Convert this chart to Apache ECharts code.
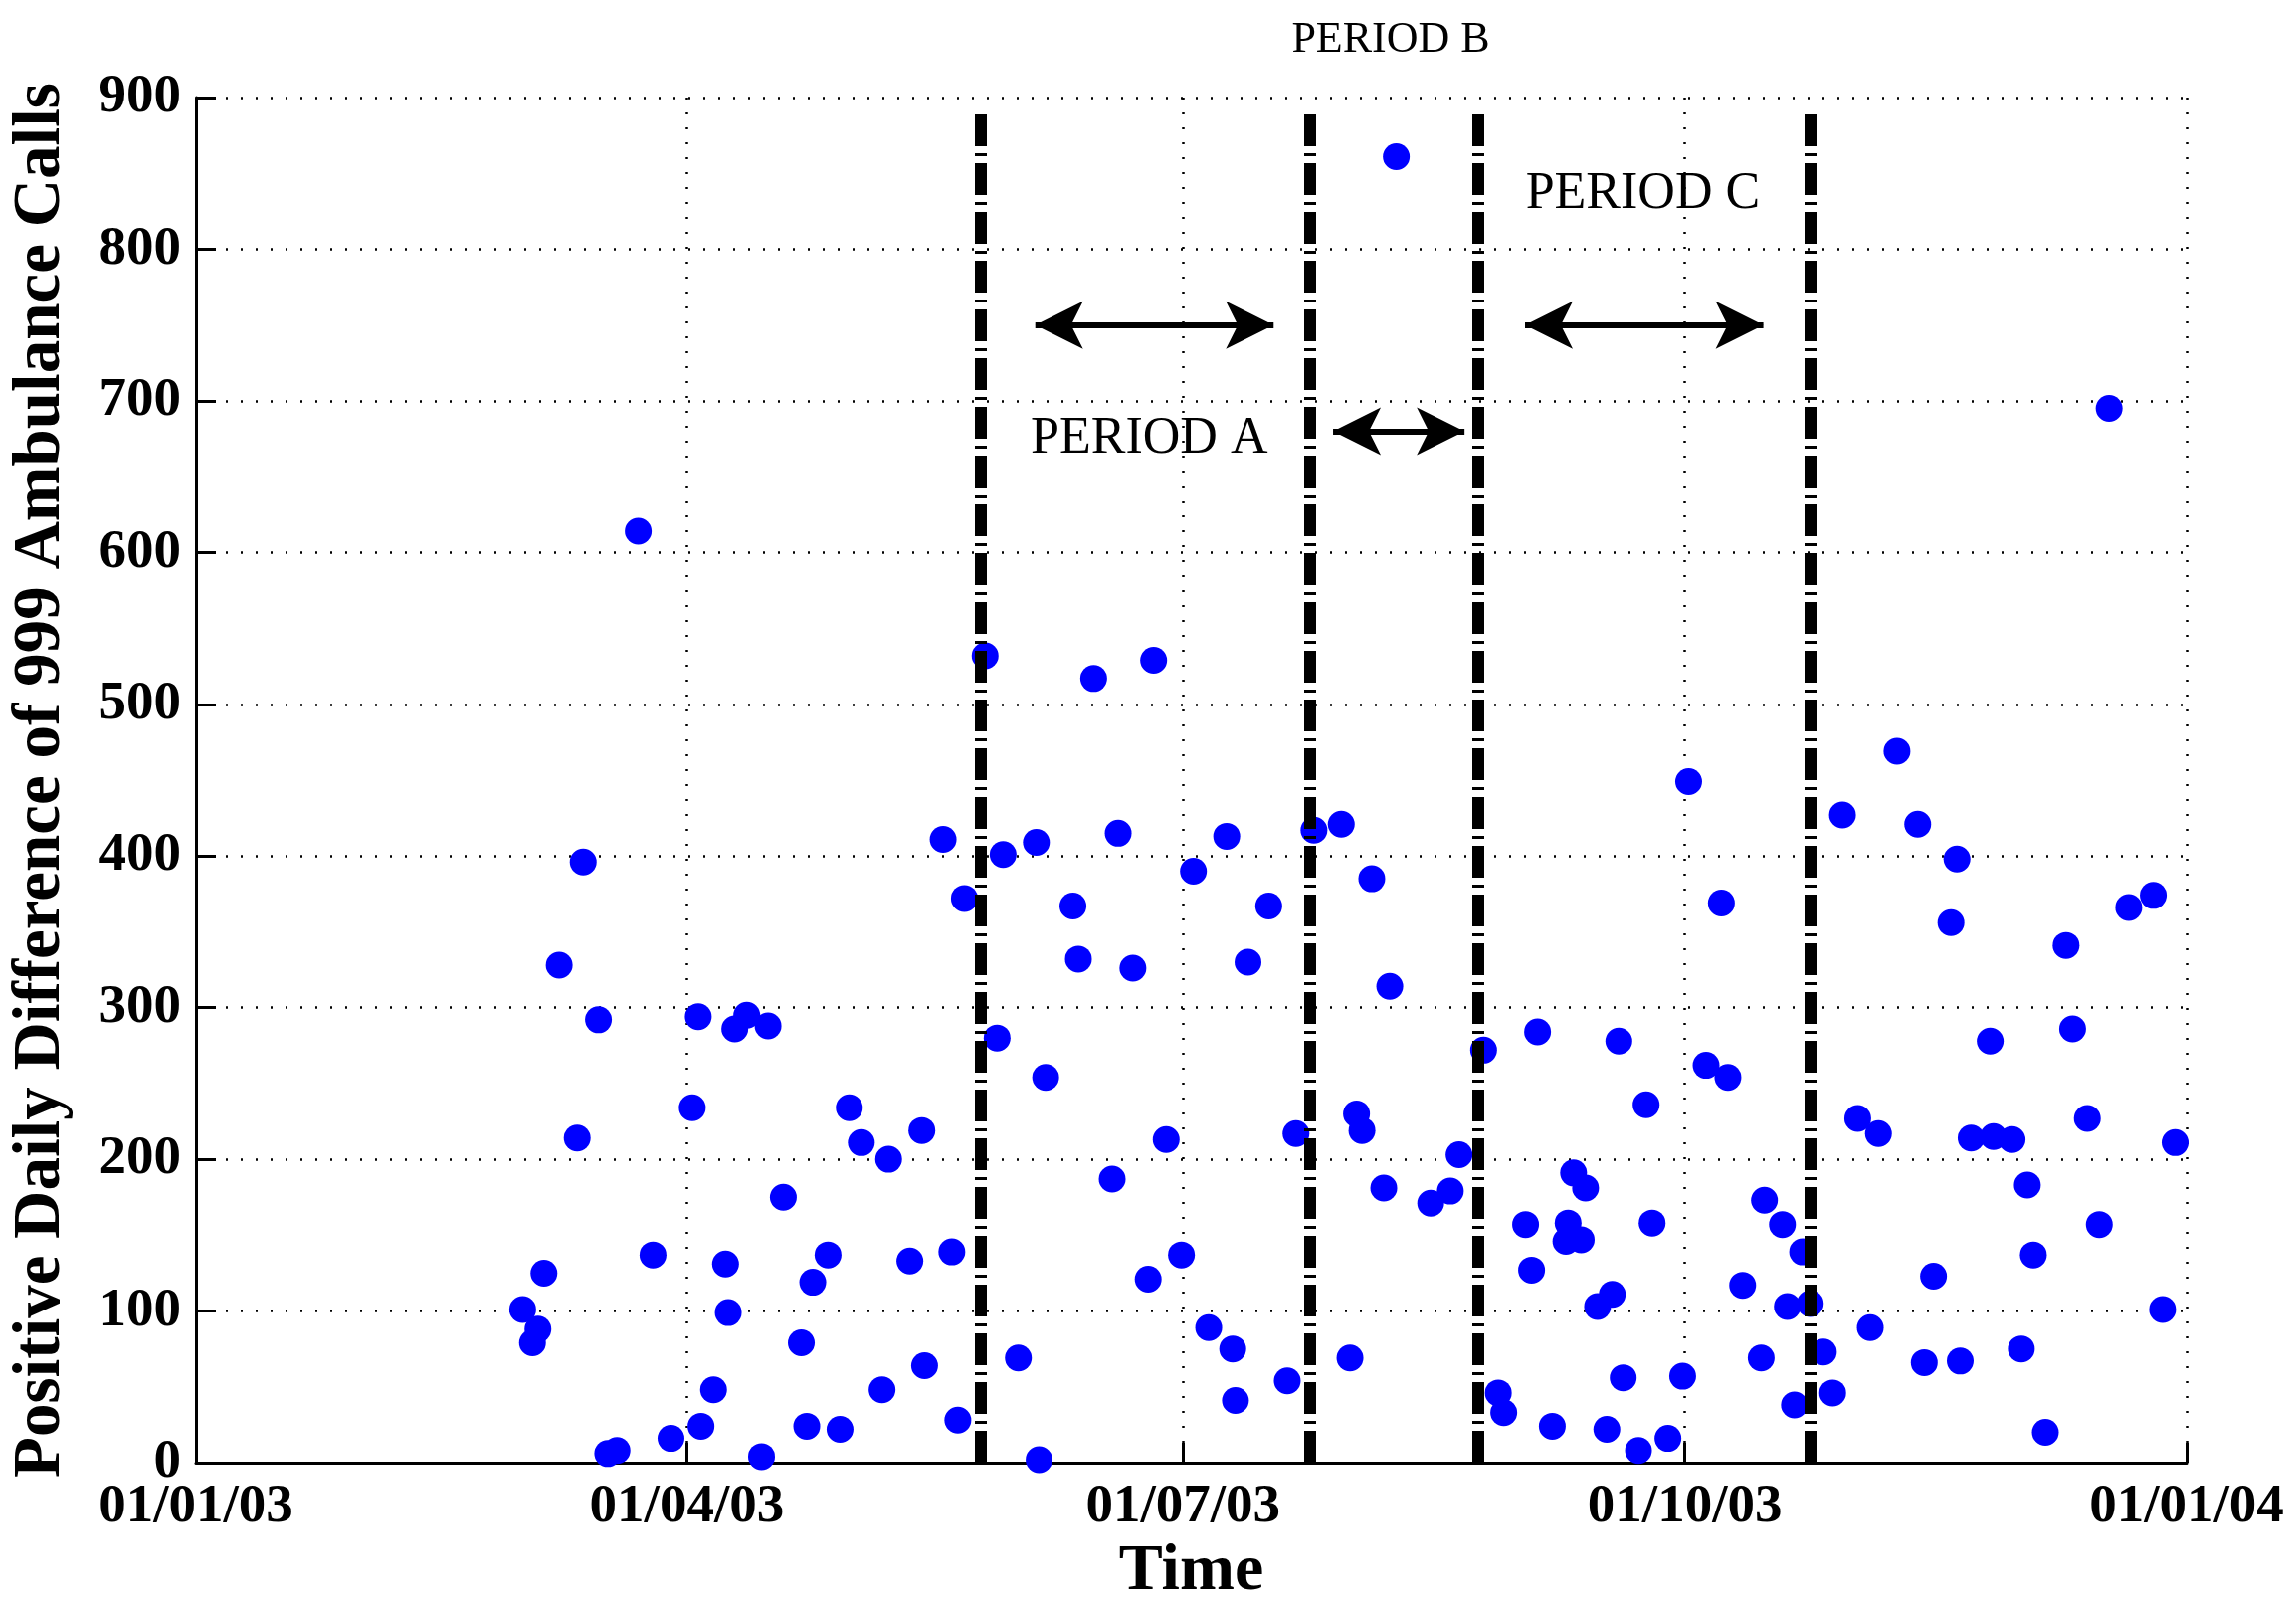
<!DOCTYPE html>
<html>
<head>
<meta charset="utf-8">
<title>Positive daily difference of 999 ambulance calls</title>
<script src="https://cdn.jsdelivr.net/npm/echarts@6/dist/echarts.min.js"></script>
<style>
  html, body { margin: 0; padding: 0; background: #fff; }
  #chart { width: 2308px; height: 1620px; }
</style>
</head>
<body>
<div id="chart"></div>
<script>
// x is in days counted from 01/01/03
var dayTicks = [0, 90, 181, 273, 365];
var dayTickLabels = ['01/01/03', '01/04/03', '01/07/03', '01/10/03', '01/01/04'];

var callDays = [
  59.9, 61.7, 62.7, 63.8, 66.6, 69.9, 71.0, 73.8, 75.5, 77.2,
  81.1, 83.8, 87.1, 91.0, 92.1, 92.6, 94.9, 97.1, 97.6, 98.8,
  101.0, 103.7, 104.9, 107.7, 111.0, 112.0, 113.1, 115.9, 118.1, 119.8,
  122.0, 125.8, 127.0, 130.9, 133.1, 133.6, 137.0, 138.6, 139.7, 140.9,
  144.7, 146.9, 148.0, 150.8, 154.1, 154.6, 155.8, 160.8, 161.8, 164.6,
  168.0, 169.1, 171.8, 174.6, 175.6, 177.9, 180.7, 182.9, 185.7, 189.0,
  190.1, 190.6, 192.9, 196.7, 200.1, 201.7, 205.0, 210.0, 211.6, 212.8,
  213.8, 215.6, 217.8, 218.9, 220.1, 226.4, 230.0, 231.6, 236.1, 238.8,
  239.8, 243.8, 244.9, 246.0, 248.7, 251.2, 251.6, 252.6, 254.0, 254.8,
  257.0, 258.7, 259.7, 260.9, 261.7, 264.5, 265.9, 267.0, 269.9, 272.6,
  273.7, 276.9, 279.7, 280.9, 283.6, 287.0, 287.6, 290.9, 291.8, 293.1,
  294.6, 296.0, 298.4, 300.1, 301.9, 304.7, 307.0, 308.5, 311.9, 315.7,
  316.9, 318.6, 321.8, 322.9, 323.5, 325.5, 329.0, 329.6, 333.0, 334.7,
  335.8, 336.9, 339.1, 342.9, 344.1, 346.8, 349.0, 350.8, 354.4, 358.9,
  360.6, 362.9
];
var callDiffs = [
  101, 79, 88, 125, 328, 214, 396, 292, 6, 8,
  614, 137, 16, 234, 294, 24, 48, 131, 99, 286,
  295, 4, 288, 175, 79, 24, 119, 137, 22, 234,
  211, 48, 200, 133, 219, 64, 411, 139, 28, 372,
  532, 280, 401, 69, 409, 2, 254, 367, 332, 517,
  187, 415, 326, 121, 529, 213, 137, 390, 89, 413,
  75, 41, 330, 367, 54, 217, 417, 421, 69, 230,
  219, 385, 181, 314, 861, 171, 179, 203, 272, 46,
  33, 157, 127, 284, 24, 146, 158, 191, 147, 181,
  103, 22, 111, 278, 56, 8, 236, 158, 16, 57,
  449, 262, 369, 254, 117, 69, 173, 157, 103, 38,
  139, 105, 73, 46, 427, 227, 89, 217, 469, 421,
  66, 123, 356, 398, 67, 214, 278, 215, 213, 75,
  183, 137, 20, 341, 286, 227, 157, 695, 366, 374,
  101, 211
];

// period boundaries (dashed lines) and the arrows / labels between them
var periodLineDays = [143.8, 204.3, 235.0, 296.0];
var periodLineTop = 890;
var arrowFrom = [153.9, 208.5, 243.7];
var arrowTo = [197.6, 232.6, 287.4];
var arrowLevel = [750, 680, 750];
var periodNames = ['PERIOD A', 'PERIOD C'];
var periodNameDays = [174.8, 265.3];
var periodNameLevels = [675, 836];

var points = [];
for (var i = 0; i < callDays.length; i++) {
  points.push([callDays[i], callDiffs[i]]);
}

var lineData = [];
for (var i = 0; i < periodLineDays.length; i++) {
  lineData.push([{coord: [periodLineDays[i], 0]}, {coord: [periodLineDays[i], periodLineTop]}]);
}
var arrowData = [];
for (var i = 0; i < arrowFrom.length; i++) {
  arrowData.push([{coord: [arrowFrom[i], arrowLevel[i]]}, {coord: [arrowTo[i], arrowLevel[i]]}]);
}
var nameData = [];
for (var i = 0; i < periodNames.length; i++) {
  nameData.push({name: periodNames[i], coord: [periodNameDays[i], periodNameLevels[i]]});
}

var serif = '"Liberation Serif", "DejaVu Serif", serif';
var grid = {type: [2, 13], width: 2.5, color: '#000'};

var chart = echarts.init(document.getElementById('chart'));
var option = {
  animation: false,
  backgroundColor: '#fff',
  grid: {left: 197, right: 110, top: 98, bottom: 150, containLabel: false},
  xAxis: {
    type: 'value',
    min: 0,
    max: 365,
    name: 'Time',
    nameLocation: 'middle',
    nameGap: 72,
    nameTextStyle: {fontFamily: serif, fontWeight: 'bold', fontSize: 66, color: '#000'},
    axisLine: {show: true, onZero: false, lineStyle: {color: '#000', width: 3}},
    axisTick: {show: true, inside: true, length: 20, customValues: dayTicks, lineStyle: {color: '#000', width: 3}},
    axisLabel: {
      customValues: dayTicks,
      margin: 17,
      fontFamily: serif, fontWeight: 'bold', fontSize: 55, color: '#000',
      formatter: function (v) { return dayTickLabels[dayTicks.indexOf(v)]; }
    },
    splitLine: {show: true, lineStyle: grid}
  },
  yAxis: {
    type: 'value',
    min: 0,
    max: 900,
    interval: 100,
    name: 'Positive Daily Difference of 999 Ambulance Calls',
    nameLocation: 'middle',
    nameGap: 122,
    nameTextStyle: {fontFamily: serif, fontWeight: 'bold', fontSize: 67, color: '#000'},
    axisLine: {show: true, lineStyle: {color: '#000', width: 3}},
    axisTick: {show: true, inside: true, length: 20, lineStyle: {color: '#000', width: 3}},
    axisLabel: {margin: 15, fontFamily: serif, fontWeight: 'bold', fontSize: 55, color: '#000'},
    splitLine: {show: true, lineStyle: grid}
  },
  graphic: [{
    type: 'text',
    x: 1398,
    y: 40,
    style: {text: 'PERIOD B', font: '44px ' + serif, fill: '#000', align: 'center', verticalAlign: 'middle'}
  }],
  series: [
    {
      type: 'scatter',
      data: points,
      symbol: 'circle',
      symbolSize: 27,
      itemStyle: {color: '#0000ff', opacity: 1},
      z: 2
    },
    {
      type: 'scatter',
      data: [],
      z: 5,
      markLine: {
        silent: true,
        animation: false,
        symbol: 'none',
        label: {show: false},
        lineStyle: {color: '#000', width: 12, type: [32, 7, 3, 7], cap: 'butt'},
        data: lineData
      }
    },
    {
      type: 'scatter',
      data: [],
      z: 6,
      markLine: {
        silent: true,
        animation: false,
        symbol: ['arrow', 'arrow'],
        symbolSize: [36, 48],
        label: {show: false},
        lineStyle: {color: '#000', width: 6, type: 'solid'},
        data: arrowData
      },
      markPoint: {
        silent: true,
        animation: false,
        symbol: 'circle',
        symbolSize: 0,
        label: {
          show: true,
          position: 'inside',
          formatter: '{b}',
          fontFamily: serif,
          fontSize: 52,
          color: '#000'
        },
        data: nameData
      }
    }
  ]
};
chart.setOption(option);
window.onresize = function () { chart.resize(); };
</script>
</body>
</html>
